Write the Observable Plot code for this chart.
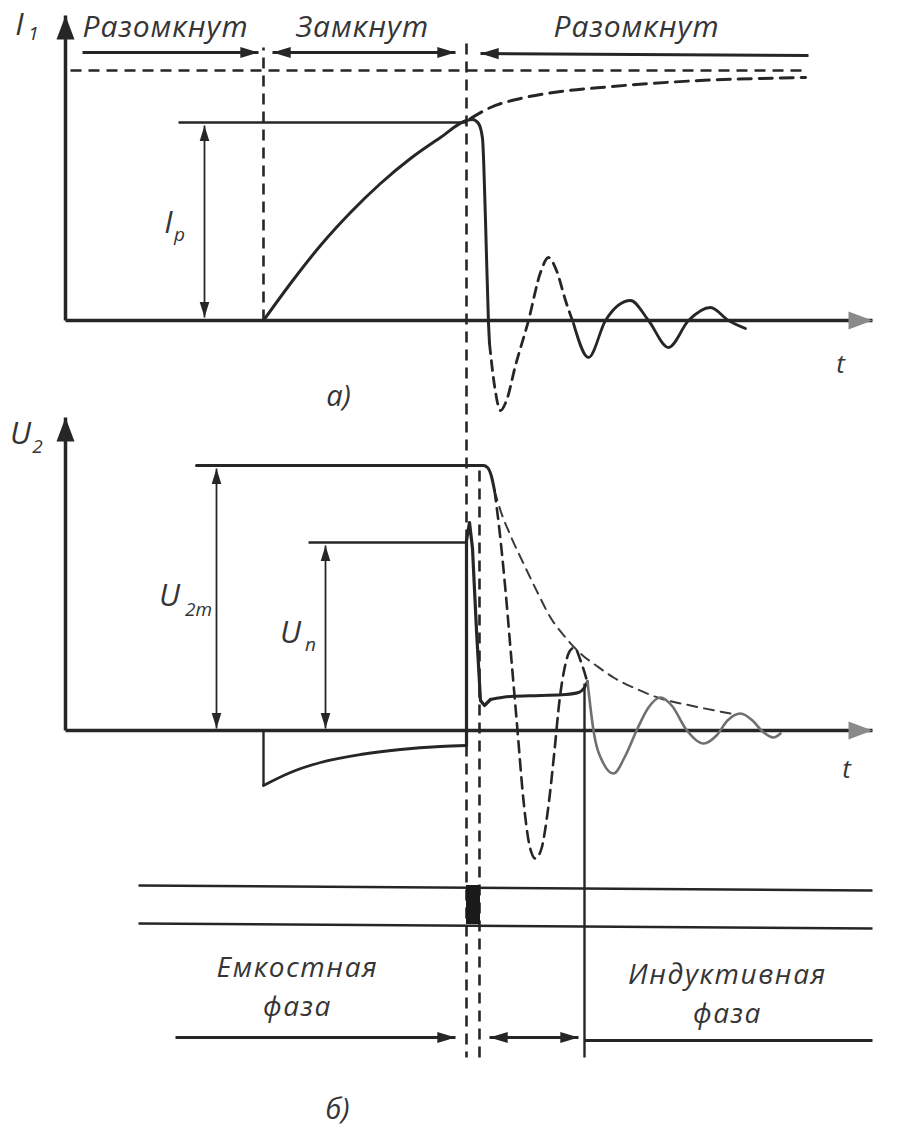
<!DOCTYPE html>
<html><head><meta charset="utf-8">
<script src="https://cdn.jsdelivr.net/npm/d3@7"></script>
<script src="https://cdn.jsdelivr.net/npm/@observablehq/plot@0.6"></script>
<style>
html,body{margin:0;padding:0;background:#fff;}
#chart{width:902px;height:1129px;overflow:hidden;}
</style></head><body><div id="chart"></div>
<script>
// Horizontal unit t: time from the ordinate axis. Vertical unit v: signal level above each panel's t-axis.
// Panel a) current i1, panel b) voltage u2 (the switch-state strip below panel b uses panel b units).

// ---- panel a) current i1 ----
const i1Rise       = [[198,0],[225,37],[255,75],[285,108],[315,137],[345,162],[375,183],[401,200],[407,201],[413,197],[417,182],[420,100],[423,-3],[424,-23]];
const i1RingDashed = [[424,-23],[429,-65],[435,-90],[441,-80],[450,-45],[463,0],[475,48],[483,63],[491,50],[500,20],[508,-3]];
const i1RingSolid  = [[508,-3],[523,-37],[540,0],[565,20],[583,0],[603,-27],[623,0],[645,13],[663,0],[680,-8]];
const i1Limit      = [[405,202],[425,213],[455,222],[495,229],[535,233],[585,237],[635,240],[695,242],[740,243]];

// ---- panel b) voltage u2 ----
const u2Top      = [[131,265],[418,265],[422,263],[426,254],[429,240]];
const u2BigDash  = [[429,240],[434,200],[440,140],[446,70],[452,0],[458,-70],[464,-115],[470,-128],[476,-118],[483,-75],[489,-20],[494,30],[499,62],[504,79],[509,83],[515,70],[522,48]];
const u2Envelope = [[429,240],[435,220],[445,195],[458,167],[472,138],[485,113],[500,93],[515,77],[532,64],[548,53],[570,42],[595,32],[625,25],[670,16]];
const u2Negative = [[198,-55],[225,-42],[255,-32],[295,-24],[335,-19],[375,-16],[401,-15]];
const u2Spike    = [[401,-15],[401,190],[404,208],[407,182],[411,100],[415,30],[419,25],[425,31]];
const u2Plateau  = [[425,31],[445,34],[475,35],[500,36],[513,38],[519,43],[522,49]];
const u2Ring     = [[522,49],[528,0],[538,-33],[548,-43],[560,-25],[572,2],[583,23],[595,33],[607,24],[620,2],[638,-13],[651,-5],[662,10],[675,17],[687,10],[697,-1],[708,-7],[715,-3]];

// ---- reference levels & guides: [panel, t1, v1, t2, v2] ----
const levelLines = [
  ["a",113,198,401,198],   // Ip level
  ["b",243,188,401,188],   // Un level
  ["b",198,0,198,-55],     // u2 negative jump at closing
  ["b",73,-155,807,-160],  // switch strip, upper line
  ["b",73,-193,807,-198],  // switch strip, lower line
  ["b",519,47,519,-327]    // start of inductive phase
];
const dashedGuides = [
  ["a",198,0,198,273],     // closing instant
  ["a",401,277,401,-737],  // opening instant
  ["b",414,260,414,-327],  // end of capacitive phase
  ["a",5,250,740,250]      // limit current
];
const switchBlock = [["b",401,-155,415,-194]];

// ---- arrows: [panel, t1, v1, t2, v2, heads] ----
const spanArrows = [
  ["a",17,268,193,268,"end"],
  ["a",207,268,390,268,"both"],
  ["a",415,267,743,265,"start"],
  ["b",110,-307,390,-307,"end"],
  ["b",424,-307,513,-307,"both"]
];
const spanLine = [["b",519,-310,807,-310]];
const dimArrows = [
  ["a",139,195,139,3,"both"],   // Ip
  ["b",151,262,151,2,"both"],   // U2m
  ["b",260,185,260,2,"both"]    // Un
];
const axes = [
  ["a",0,0,0,305,"end"], ["a",0,0,807,0,"end"],
  ["b",0,0,0,313,"end"], ["b",0,0,807,0,"end"]
];

// ---- texts: [panel, text, t, v] ----
const stateLabels = [["a","Разомкнут",100,284],["a","Замкнут",297,284],["a","Разомкнут",571,284]];
const phaseLabels = [["b","Емкостная\nфаза",232,-285],["b","Индуктивная\nфаза",662,-292]];
const symbolLabels = [["a","I",-46,286],["a","I",103,88],["b","U",-45,287],["b","U",104,125],["b","U",225,88]];
const subscripts = [["a","1",-32,281],["a","р",114,80],["b","2",-28,278],["b","2m",133,115],["b","п",245,80]];
const axisNames = [["a","t",775,-52],["b","t",781,-47]];
const panelNames = [["a","а)",273,-85],["b","б)",272,-388]];

// ---------- build tables ----------
const offset = {a: 0, b: -410};
const pts = (panel, arr) => arr.map(([t, v]) => ({t, y: v + offset[panel]}));
const segs = arr => arr.map(([p, t1, v1, t2, v2]) => ({t1, y1: v1 + offset[p], t2, y2: v2 + offset[p]}));
const texts = arr => arr.map(([p, text, t, v]) => ({text, t, y: v + offset[p]}));
function heads(arr) {
  const out = [];
  const ang = (a, b) => Math.atan2(b[0] - a[0], b[1] - a[1]) * 180 / Math.PI;
  for (const [p, t1, v1, t2, v2, ends] of arr) {
    const A = [t1, v1 + offset[p]], B = [t2, v2 + offset[p]];
    if (ends !== "start") out.push({t: B[0], y: B[1], rotate: ang(A, B)});
    if (ends !== "end") out.push({t: A[0], y: A[1], rotate: ang(B, A)});
  }
  return out;
}
// arrow-head symbols: tip at the origin, pointing up
const slimHead = {draw(ctx, size) { const r = Math.sqrt(size / Math.PI); ctx.moveTo(0, 0); ctx.lineTo(0.8 * r, 2.6 * r); ctx.lineTo(-0.8 * r, 2.6 * r); ctx.closePath(); }};
const axisHead = {draw(ctx, size) { const r = Math.sqrt(size / Math.PI); ctx.moveTo(0, 0); ctx.lineTo(0.9 * r, 2.4 * r); ctx.lineTo(-0.9 * r, 2.4 * r); ctx.closePath(); }};

const ink = "#262626", grey = "#707070", textInk = "#353535";
const font = "'Open Sans', 'Noto Sans', sans-serif";
const XY = {x: "t", y: "y"};
const L = {x1: "t1", y1: "y1", x2: "t2", y2: "y2"};
const T = {x: "t", y: "y", text: "text", fontStyle: "italic", fontFamily: font, fill: textInk, textAnchor: "middle", lineAnchor: "bottom"};

const axisHeads = heads(axes);
const chart = Plot.plot({
  width: 902, height: 1129, margin: 0,
  x: {domain: [-65, 837], axis: null},
  y: {domain: [-809, 320], axis: null},
  style: {background: "#fff"},
  marks: [
    // guides
    Plot.link(segs(dashedGuides), {...L, stroke: ink, strokeWidth: 2.6, strokeDasharray: "11,7"}),
    Plot.link(segs(levelLines), {...L, stroke: ink, strokeWidth: 2.4}),
    Plot.rect(segs(switchBlock), {...L, fill: "#1a1a1a"}),
    // axes
    Plot.link(segs(axes), {...L, stroke: ink, strokeWidth: 3.5}),
    Plot.dot(axisHeads.filter(d => d.rotate === 0), {...XY, rotate: "rotate", symbol: axisHead, r: 10, fill: ink, stroke: "none"}),
    Plot.dot(axisHeads.filter(d => d.rotate !== 0), {...XY, rotate: "rotate", symbol: axisHead, r: 10, fill: "#8a8a8a", stroke: "none"}),
    // arrows
    Plot.link(segs(spanArrows), {...L, stroke: ink, strokeWidth: 3}),
    Plot.link(segs(spanLine), {...L, stroke: ink, strokeWidth: 3}),
    Plot.dot(heads(spanArrows), {...XY, rotate: "rotate", symbol: slimHead, r: 7, fill: ink, stroke: "none"}),
    Plot.link(segs(dimArrows), {...L, stroke: ink, strokeWidth: 1.8}),
    Plot.dot(heads(dimArrows), {...XY, rotate: "rotate", symbol: slimHead, r: 6, fill: ink, stroke: "none"}),
    // panel a curves
    Plot.line(pts("a", i1Limit), {...XY, curve: "monotone-x", stroke: ink, strokeWidth: 3, strokeDasharray: "13,8"}),
    Plot.line(pts("a", i1Rise), {...XY, curve: "monotone-x", stroke: ink, strokeWidth: 3}),
    Plot.line(pts("a", i1RingDashed), {...XY, curve: "monotone-x", stroke: ink, strokeWidth: 2.8, strokeDasharray: "10,7"}),
    Plot.line(pts("a", i1RingSolid), {...XY, curve: "monotone-x", stroke: ink, strokeWidth: 2.8}),
    // panel b curves
    Plot.line(pts("b", u2Envelope), {...XY, curve: "monotone-x", stroke: "#3a3a3a", strokeWidth: 2, strokeDasharray: "10,7"}),
    Plot.line(pts("b", u2BigDash), {...XY, curve: "monotone-x", stroke: ink, strokeWidth: 2.6, strokeDasharray: "11,7"}),
    Plot.line(pts("b", u2Top), {...XY, curve: "monotone-x", stroke: ink, strokeWidth: 3}),
    Plot.line(pts("b", u2Negative), {...XY, curve: "monotone-x", stroke: ink, strokeWidth: 2.8}),
    Plot.line(pts("b", u2Spike), {...XY, curve: "linear", stroke: ink, strokeWidth: 3.2}),
    Plot.line(pts("b", u2Plateau), {...XY, curve: "monotone-x", stroke: ink, strokeWidth: 3}),
    Plot.line(pts("b", u2Ring), {...XY, curve: "monotone-x", stroke: grey, strokeWidth: 2.6}),
    // texts
    Plot.text(texts(stateLabels), {...T, fontSize: 30}),
    Plot.text(texts(phaseLabels), {...T, fontSize: 28, lineHeight: 1.38}),
    Plot.text(texts(symbolLabels), {...T, fontSize: 31}),
    Plot.text(texts(subscripts), {...T, fontSize: 19}),
    Plot.text(texts(axisNames), {...T, fontSize: 26}),
    Plot.text(texts(panelNames), {...T, fontSize: 29})
  ]
});
// slightly wider tracking for the state / phase captions, as in the original lettering
d3.select(chart).selectAll("g[font-size='30']").attr("letter-spacing", 1);
d3.select(chart).selectAll("g[font-size='28']").attr("letter-spacing", 1.6);
document.getElementById("chart").appendChild(chart);
</script>
</body></html>
